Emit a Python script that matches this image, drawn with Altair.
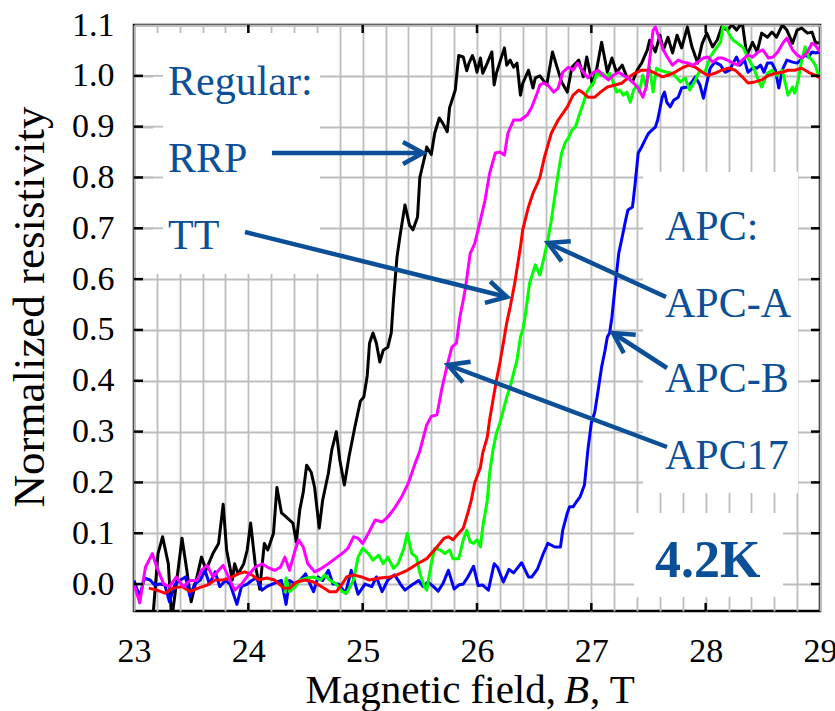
import math
import altair as alt
import pandas as pd

# ---------------- data ----------------
rrp_b = [23.16, 23.21, 23.25, 23.30, 23.33, 23.37, 23.42, 23.46, 23.50, 23.55, 23.59, 23.63, 23.69, 23.74, 23.78,
         23.81, 23.86, 23.88, 23.91, 23.96, 23.99, 24.02, 24.06, 24.10, 24.14, 24.17, 24.22, 24.25, 24.29, 24.34,
         24.39, 24.42, 24.45, 24.48, 24.51, 24.55, 24.58, 24.62, 24.65, 24.70, 24.73, 24.77, 24.80, 24.84, 24.88,
         24.93, 24.98, 25.01, 25.04, 25.06, 25.09, 25.12, 25.15, 25.18, 25.22, 25.25, 25.27, 25.30, 25.33, 25.37,
         25.41, 25.44, 25.48, 25.50, 25.55, 25.56, 25.60, 25.63, 25.67, 25.70, 25.74, 25.76, 25.81, 25.84, 25.88,
         25.91, 25.93, 25.96, 25.98, 26.00, 26.03, 26.05, 26.09, 26.13, 26.15, 26.17, 26.20, 26.24, 26.26, 26.29,
         26.32, 26.35, 26.38, 26.40, 26.45, 26.49, 26.51, 26.55, 26.61, 26.66, 26.70, 26.74, 26.79, 26.83, 26.89,
         26.93, 26.96, 27.01, 27.05, 27.09, 27.14, 27.18, 27.22, 27.27, 27.31, 27.36, 27.40, 27.44, 27.49, 27.51,
         27.56, 27.60, 27.63, 27.67, 27.71, 27.75, 27.79, 27.84, 27.88, 27.93, 27.97, 28.01, 28.06, 28.10, 28.14,
         28.19, 28.23, 28.27, 28.32, 28.36, 28.41, 28.45, 28.49, 28.54, 28.58, 28.62, 28.67, 28.71, 28.76, 28.80,
         28.84, 28.89, 28.93, 28.96, 28.99]
rrp_r = [-0.08, 0.06, 0.093, 0.04, -0.07, 0.0, 0.09, 0.03, -0.035, 0.013, 0.053, 0.028, 0.06, 0.08, 0.157,
         0.067, 0.008, 0.04, 0.02, 0.04, 0.067, 0.12, 0.04, -0.01, 0.08, 0.067, 0.10, 0.19, 0.14, 0.13,
         0.12, 0.083, 0.146, 0.18, 0.234, 0.22, 0.19, 0.11, 0.165, 0.218, 0.264, 0.30, 0.244, 0.195, 0.25,
         0.307, 0.36, 0.368, 0.41, 0.474, 0.494, 0.474, 0.437, 0.46, 0.466, 0.494, 0.56, 0.643, 0.69, 0.746,
         0.706, 0.697, 0.722, 0.80, 0.848, 0.86, 0.845, 0.887, 0.917, 0.907, 0.89, 0.937, 0.972, 1.04, 1.037,
         1.01, 1.025, 1.04, 1.027, 1.007, 1.035, 1.005, 1.025, 1.047, 0.982, 1.005, 1.027, 1.055, 1.021, 1.031,
         1.017, 1.025, 0.962, 0.985, 1.011, 0.976, 0.996, 1.0, 0.982, 1.047, 1.017, 0.988, 0.968, 1.017, 1.031,
         0.998, 1.037, 0.982, 1.017, 1.066, 1.007, 1.035, 1.007, 1.021, 0.998, 0.988, 1.011, 1.025, 1.051, 1.07,
         1.047, 1.08, 1.051, 1.076, 1.045, 1.08, 1.055, 1.096, 1.057, 1.025, 1.064, 1.084, 1.057, 1.07, 1.096,
         1.09, 1.1, 1.09, 1.105, 1.04, 1.066, 1.047, 1.084, 1.076, 1.086, 1.076, 1.1, 1.09, 1.064, 1.09,
         1.094, 1.084, 1.086, 1.066, 1.064]

apc17_b = [23.00, 23.05, 23.10, 23.16, 23.20, 23.26, 23.31, 23.37, 23.43, 23.49, 23.55, 23.59, 23.64, 23.69, 23.74,
           23.78, 23.84, 23.88, 23.94, 24.00, 24.06, 24.12, 24.17, 24.23, 24.28, 24.32, 24.36, 24.41, 24.44, 24.48,
           24.52, 24.58, 24.64, 24.70, 24.76, 24.82, 24.87, 24.92, 24.96, 25.00, 25.05, 25.11, 25.17, 25.22, 25.28,
           25.34, 25.40, 25.46, 25.50, 25.56, 25.60, 25.65, 25.69, 25.74, 25.78, 25.82, 25.85, 25.88, 25.90, 25.94,
           25.98, 26.03, 26.07, 26.11, 26.16, 26.20, 26.24, 26.27, 26.32, 26.38, 26.44, 26.48, 26.52, 26.55, 26.58,
           26.62, 26.67, 26.71, 26.75, 26.80, 26.84, 26.88, 26.93, 26.97, 27.02, 27.06, 27.10, 27.15, 27.19, 27.24,
           27.28, 27.32, 27.36, 27.41, 27.45, 27.48, 27.51, 27.54, 27.56, 27.60, 27.63, 27.67, 27.71, 27.76, 27.80,
           27.85, 27.89, 27.93, 27.98, 28.02, 28.06, 28.11, 28.15, 28.19, 28.24, 28.28, 28.32, 28.37, 28.41, 28.46,
           28.50, 28.55, 28.59, 28.63, 28.68, 28.71, 28.76, 28.80, 28.84, 28.89, 28.93, 28.96, 29.00]
apc17_r = [0.0, -0.037, 0.033, 0.06, 0.033, 0.0, -0.005, 0.014, -0.005, 0.007, 0.007, 0.027, 0.037, 0.014, 0.027,
           0.037, 0.007, -0.012, 0.0, 0.018, 0.033, 0.04, 0.033, 0.027, 0.033, 0.053, 0.027, 0.067, 0.087, 0.073,
           0.04, 0.024, 0.031, 0.04, 0.05, 0.06, 0.07, 0.093, 0.09, 0.08, 0.1, 0.126, 0.122, 0.132, 0.15,
           0.171, 0.199, 0.238, 0.262, 0.313, 0.33, 0.333, 0.382, 0.431, 0.466, 0.474, 0.525, 0.559, 0.584, 0.65,
           0.67, 0.716, 0.755, 0.808, 0.848, 0.85, 0.844, 0.887, 0.913, 0.913, 0.923, 0.939, 0.962, 0.982, 0.986,
           0.982, 0.968, 0.976, 1.007, 1.017, 1.011, 1.025, 1.007, 0.996, 1.007, 1.011, 1.001, 0.992, 1.001, 1.007,
           1.001, 0.996, 0.988, 0.976, 0.958, 0.978, 1.031, 1.09, 1.096, 1.07, 1.051, 1.035, 1.021, 1.031, 1.027,
           1.025, 1.021, 1.027, 1.035, 1.037, 1.027, 1.035, 1.035, 1.031, 1.025, 1.021, 1.031, 1.041, 1.037, 1.047,
           1.051, 1.035, 1.037, 1.047, 1.066, 1.074, 1.051, 1.041, 1.035, 1.047, 1.064, 1.06, 1.047]

tt_b = [23.13, 23.20, 23.27, 23.34, 23.42, 23.49, 23.56, 23.64, 23.71, 23.78, 23.86, 23.91, 23.97, 24.03, 24.09,
        24.16, 24.23, 24.31, 24.36, 24.42, 24.50, 24.57, 24.64, 24.71, 24.77, 24.82, 24.86, 24.92, 24.99, 25.06,
        25.15, 25.24, 25.30, 25.39, 25.48, 25.56, 25.65, 25.71, 25.75, 25.79, 25.84, 25.88, 25.92, 25.95, 25.98,
        26.03, 26.05, 26.09, 26.11, 26.14, 26.17, 26.20, 26.23, 26.26, 26.29, 26.33, 26.38, 26.40, 26.45, 26.49,
        26.53, 26.55, 26.59, 26.65, 26.71, 26.79, 26.84, 26.89, 26.93, 26.97, 27.03, 27.08, 27.14, 27.21, 27.27,
        27.32, 27.38, 27.44, 27.50, 27.56, 27.62, 27.67, 27.73, 27.79, 27.85, 27.91, 27.97, 28.02, 28.08, 28.14,
        28.20, 28.26, 28.32, 28.37, 28.43, 28.49, 28.55, 28.61, 28.67, 28.72, 28.78, 28.84, 28.90, 28.96, 29.00]
tt_r = [-0.008, -0.012, -0.018, -0.008, -0.005, -0.015, -0.008, -0.002, 0.008, 0.008, 0.014, 0.02, 0.024, 0.018, 0.008,
        0.012, 0.008, -0.008, -0.008, 0.004, 0.008, 0.004, -0.005, -0.015, -0.015, 0.0, 0.014, 0.018, 0.014, 0.008,
        0.012, 0.014, 0.018, 0.027, 0.04, 0.05, 0.073, 0.09, 0.093, 0.087, 0.1, 0.11, 0.14, 0.165, 0.199,
        0.23, 0.258, 0.289, 0.323, 0.362, 0.401, 0.435, 0.474, 0.514, 0.545, 0.592, 0.663, 0.697, 0.742, 0.769,
        0.789, 0.80, 0.84, 0.887, 0.913, 0.939, 0.962, 0.972, 0.966, 0.958, 0.958, 0.968, 0.978, 0.982, 0.986,
        0.996, 1.005, 1.011, 1.011, 1.005, 0.998, 1.001, 1.007, 1.015, 1.021, 1.017, 1.007, 1.001, 1.005, 1.011,
        1.015, 1.011, 0.998, 0.986, 0.988, 0.992, 1.001, 1.005, 1.007, 1.011, 1.011, 1.015, 1.007, 1.001, 0.996]

apca_b = [24.32, 24.33, 24.36, 24.41, 24.45, 24.51, 24.57, 24.63, 24.67, 24.71, 24.77, 24.82, 24.86, 24.92, 24.96,
          25.00, 25.05, 25.09, 25.14, 25.18, 25.22, 25.27, 25.31, 25.36, 25.39, 25.43, 25.47, 25.50, 25.54, 25.56,
          25.60, 25.63, 25.68, 25.72, 25.76, 25.79, 25.84, 25.88, 25.91, 25.94, 25.97, 26.00, 26.03, 26.05, 26.09,
          26.11, 26.14, 26.17, 26.20, 26.23, 26.26, 26.29, 26.32, 26.35, 26.38, 26.40, 26.42, 26.46, 26.51, 26.55,
          26.58, 26.62, 26.65, 26.68, 26.71, 26.74, 26.77, 26.80, 26.83, 26.86, 26.88, 26.90, 26.93, 26.96, 26.99,
          27.02, 27.05, 27.08, 27.10, 27.14, 27.16, 27.19, 27.22, 27.25, 27.28, 27.31, 27.34, 27.37, 27.40, 27.42,
          27.45, 27.48, 27.51, 27.54, 27.57, 27.60, 27.66, 27.71, 27.78, 27.82, 27.86, 27.91, 27.95, 27.99, 28.04,
          28.08, 28.13, 28.15, 28.18, 28.21, 28.24, 28.28, 28.33, 28.37, 28.42, 28.46, 28.49, 28.54, 28.58, 28.62,
          28.67, 28.70, 28.72, 28.76, 28.78, 28.81, 28.84, 28.87, 28.90, 28.93, 28.96, 28.99]
apca_r = [-0.018, 0.012, -0.015, -0.005, 0.007, 0.012, 0.014, 0.008, 0.018, 0.008, 0.0, -0.015, -0.018, 0.008, 0.053,
          0.07, 0.06, 0.047, 0.057, 0.04, 0.053, 0.031, 0.04, 0.07, 0.1, 0.06, 0.053, 0.022, -0.005, -0.012,
          0.04, 0.07, 0.067, 0.06, 0.067, 0.05, 0.05, 0.087, 0.106, 0.083, 0.08, 0.087, 0.073, 0.112, 0.165,
          0.218, 0.264, 0.297, 0.317, 0.342, 0.368, 0.388, 0.415, 0.441, 0.486, 0.5, 0.525, 0.592, 0.628, 0.608,
          0.637, 0.677, 0.716, 0.762, 0.808, 0.848, 0.868, 0.878, 0.893, 0.899, 0.913, 0.927, 0.946, 0.968, 0.978,
          0.986, 1.007, 1.001, 1.005, 0.996, 1.005, 0.988, 0.968, 0.972, 0.962, 0.968, 0.948, 0.972, 0.982, 0.968,
          1.001, 0.978, 1.017, 0.968, 1.015, 1.011, 1.007, 1.005, 0.988, 0.996, 0.972, 0.992, 1.011, 1.005, 1.037,
          1.051, 1.066, 1.096, 1.094, 1.08, 1.07, 1.064, 1.055, 1.035, 1.015, 0.992, 0.978, 1.005, 1.011, 1.001,
          1.011, 0.982, 0.962, 0.978, 0.966, 0.992, 1.031, 1.057, 1.037, 1.031, 1.021, 0.998]

apcb_b = [23.00, 23.05, 23.09, 23.14, 23.18, 23.23, 23.27, 23.31, 23.36, 23.40, 23.45, 23.49, 23.53, 23.58, 23.62,
          23.66, 23.71, 23.75, 23.80, 23.84, 23.90, 23.94, 23.99, 24.03, 24.07, 24.12, 24.16, 24.21, 24.25, 24.29,
          24.33, 24.36, 24.41, 24.45, 24.50, 24.54, 24.57, 24.61, 24.65, 24.70, 24.74, 24.79, 24.85, 24.90, 24.96,
          25.02, 25.08, 25.12, 25.17, 25.22, 25.28, 25.33, 25.37, 25.43, 25.49, 25.53, 25.57, 25.62, 25.66, 25.70,
          25.75, 25.80, 25.84, 25.88, 25.92, 25.97, 26.01, 26.05, 26.10, 26.15, 26.18, 26.23, 26.28, 26.32, 26.39,
          26.45, 26.48, 26.53, 26.58, 26.62, 26.68, 26.73, 26.75, 26.79, 26.81, 26.84, 26.87, 26.90, 26.93, 26.94,
          26.97, 27.00, 27.03, 27.06, 27.09, 27.12, 27.14, 27.16, 27.18, 27.21, 27.24, 27.27, 27.30, 27.32, 27.36,
          27.38, 27.41, 27.44, 27.47, 27.50, 27.53, 27.56, 27.58, 27.62, 27.64, 27.66, 27.69, 27.72, 27.76, 27.79,
          27.84, 27.88, 27.91, 27.95, 27.98, 28.01, 28.04, 28.08, 28.13, 28.17, 28.21, 28.24, 28.27, 28.30, 28.34,
          28.37, 28.42, 28.45, 28.48, 28.51, 28.54, 28.58, 28.61, 28.64, 28.67, 28.71, 28.76, 28.80, 28.83, 28.87,
          28.90, 28.93, 28.96, 29.00]
apcb_r = [0.007, -0.025, 0.012, 0.008, -0.002, 0.0, -0.002, -0.035, 0.0, 0.007, 0.014, -0.025, 0.0, 0.008, 0.027,
          0.0, 0.024, -0.005, 0.007, 0.0, -0.04, -0.005, 0.0, 0.007, 0.012, -0.012, -0.005, 0.0, 0.004, 0.007,
          -0.04, 0.007, 0.0, 0.007, 0.02, 0.0, -0.015, 0.014, 0.007, 0.027, 0.0, 0.0, -0.018, 0.027, -0.02,
          0.0, -0.005, 0.014, -0.015, 0.008, 0.018, 0.0, -0.012, -0.002, 0.007, -0.005, 0.004, -0.005, -0.014, 0.0,
          0.027, -0.01, -0.002, 0.0, 0.014, 0.035, -0.003, -0.002, -0.012, 0.04, 0.033, 0.004, 0.029, 0.022, 0.042,
          0.014, 0.014, 0.03, 0.06, 0.08, 0.073, 0.073, 0.106, 0.14, 0.152, 0.152, 0.162, 0.171, 0.189, 0.195,
          0.264, 0.317, 0.338, 0.382, 0.427, 0.46, 0.486, 0.494, 0.525, 0.59, 0.651, 0.683, 0.716, 0.736, 0.742,
          0.781, 0.848, 0.86, 0.874, 0.887, 0.893, 0.899, 0.913, 0.958, 0.968, 0.948, 0.939, 0.952, 0.958, 0.976,
          0.978, 0.988, 0.998, 0.982, 0.956, 0.986, 1.015, 1.027, 1.021, 1.007, 1.011, 1.025, 1.037, 1.021, 1.031,
          1.007, 1.017, 1.015, 1.021, 1.007, 1.025, 1.025, 1.011, 0.976, 1.011, 1.031, 1.027, 1.025, 1.031, 1.041,
          1.037, 1.047, 1.045, 1.047]

# annotation texts
regular_labels = ["Regular:", "RRP", "TT"]
apc_labels = ["APC:", "APC-A", "APC-B", "APC17"]
temp_label = "4.2K"

# ---------------- layout / style ----------------
W, H = 686, 586
XMIN, XMAX = 23.0, 29.0
YMIN, YMAX = -0.053, 1.1
FONT = "Liberation Serif"
BLUE = "#0a4f97"
GRID = "#bdbdbd"
SX = W / (XMAX - XMIN)
SY = H / (YMAX - YMIN)


def px2b(px):
    return XMIN + (px - 134) / SX


def py2r(py):
    return YMAX - (py - 25) / SY


xs = alt.Scale(domain=[XMIN, XMAX], nice=False, zero=False)
ys = alt.Scale(domain=[YMIN, YMAX], nice=False, zero=False)
x_vals = [round(23 + 0.2 * i, 1) for i in range(31)]
y_vals = [round(0.1 * i, 1) for i in range(12)]

x_axis = alt.Axis(values=x_vals, grid=True, gridColor=GRID, gridWidth=1.8, ticks=False, tickSize=0,
                  domain=False,
                  labelExpr="abs(datum.value - round(datum.value)) < 0.001 ? format(datum.value, 'd') : ''",
                  labelFont=FONT, labelFontSize=34, labelColor="black", labelPadding=23,
                  labelFlush=False, labelOverlap=False, title=None)
y_axis = alt.Axis(values=y_vals, grid=True, gridColor=GRID, gridWidth=1.8, ticks=False, tickSize=0,
                  domain=False, format=".1f",
                  labelFont=FONT, labelFontSize=34, labelColor="black", labelPadding=20,
                  labelFlush=False, labelOverlap=False, title=None)


def X(f="B"):
    return alt.X(f, type="quantitative", scale=xs, axis=x_axis)


def Y(f="R"):
    return alt.Y(f, type="quantitative", scale=ys, axis=y_axis)


layers = []

# white label boxes that hide the grid
boxes = pd.DataFrame({
    "B": [px2b(153), px2b(643), px2b(634)],
    "B2": [px2b(320), px2b(798), px2b(783)],
    "R": [py2r(33), py2r(172), py2r(513)],
    "R2": [py2r(274), py2r(493), py2r(597)],
})
layers.append(alt.Chart(boxes).mark_rect(fill="white").encode(
    x=X("B"), x2="B2", y=Y("R"), y2="R2"))

# grid stubs left of the "Regular" box
stubs = pd.DataFrame({"R": [0.7, 0.8, 0.9, 1.0]})
layers.append(alt.Chart(stubs).mark_rule(color=GRID, strokeWidth=1.8).encode(
    y=Y("R"), x=alt.value(0), x2=alt.value(29)))

# curves
for b, r, col in [(rrp_b, rrp_r, "#000000"), (apcb_b, apcb_r, "#0000ff"), (apca_b, apca_r, "#00ff00"),
                  (tt_b, tt_r, "#ff0000"), (apc17_b, apc17_r, "#ff00ff")]:
    df = pd.DataFrame({"B": b, "R": r})
    layers.append(alt.Chart(df).mark_line(color=col, strokeWidth=3, clip=True, strokeJoin="round").encode(
        x=X("B"), y=Y("R")))

# inward ticks
xt = pd.DataFrame({"B": [24, 25, 26, 27, 28]})
yt = pd.DataFrame({"R": [round(0.1 * i, 1) for i in range(11)]})
layers.append(alt.Chart(xt).mark_rule(color="black", strokeWidth=2.5).encode(
    x=X("B"), y=alt.value(H), y2=alt.value(H - 8)))
layers.append(alt.Chart(xt).mark_rule(color="black", strokeWidth=2.5).encode(
    x=X("B"), y=alt.value(0), y2=alt.value(8)))
layers.append(alt.Chart(yt).mark_rule(color="black", strokeWidth=2.5).encode(
    y=Y("R"), x=alt.value(0), x2=alt.value(9)))
layers.append(alt.Chart(yt).mark_rule(color="black", strokeWidth=2.5).encode(
    y=Y("R"), x=alt.value(W), x2=alt.value(W - 9)))

# arrows (start -> tip), pixel measurements converted to data units
arrow_px = [(272, 153, 423, 153), (245, 232, 507, 297), (666, 297, 548, 243),
            (667, 368, 613, 333), (667, 447, 448, 365)]
arr = pd.DataFrame({
    "B": [px2b(a[0]) for a in arrow_px],
    "R": [py2r(a[1]) for a in arrow_px],
    "B2": [px2b(a[2]) for a in arrow_px],
    "R2": [py2r(a[3]) for a in arrow_px],
    "ang": [math.degrees(math.atan2(a[3] - a[1], a[2] - a[0])) % 360 for a in arrow_px],
})
layers.append(alt.Chart(arr).mark_rule(color=BLUE, strokeWidth=4.5).encode(
    x=X("B"), x2="B2", y=Y("R"), y2="R2"))
heads = pd.DataFrame({"B": arr["B2"], "R": arr["R2"], "ang": arr["ang"]})
layers.append(alt.Chart(heads).mark_point(shape="M-1,-0.55L0,0L-1,0.55", filled=False, size=1600,
                                          strokeWidth=4.5, color=BLUE, opacity=1, strokeJoin="miter").encode(
    x=X("B"), y=Y("R"), angle=alt.Angle("ang:Q", scale=None)))

# annotation labels
lab = pd.DataFrame({
    "label": regular_labels + apc_labels,
    "B": [px2b(168)] * 3 + [px2b(665)] * 4,
    "R": [py2r(95), py2r(172), py2r(249), py2r(240), py2r(316.7), py2r(392), py2r(469)],
})
layers.append(alt.Chart(lab).mark_text(align="left", baseline="alphabetic", font=FONT, fontSize=42,
                                       color=BLUE).encode(x=X("B"), y=Y("R"), text="label:N"))
tl = pd.DataFrame({"label": [temp_label], "B": [px2b(655)], "R": [py2r(577)]})
layers.append(alt.Chart(tl).mark_text(align="left", baseline="alphabetic", font=FONT, fontSize=52,
                                      fontWeight="bold", color=BLUE).encode(x=X("B"), y=Y("R"), text="label:N"))

# axis titles
one = pd.DataFrame({"t": [""]})
layers.append(alt.Chart(one).mark_text(align="right", baseline="alphabetic", font=FONT, fontSize=41,
                                       color="black", text="Magnetic field,").encode(
    x=alt.value(556 - 134), y=alt.value(703 - 25)))
layers.append(alt.Chart(one).mark_text(align="left", baseline="alphabetic", font=FONT, fontSize=41,
                                       fontStyle="italic", color="black", text="B").encode(
    x=alt.value(564 - 134), y=alt.value(703 - 25)))
layers.append(alt.Chart(one).mark_text(align="left", baseline="alphabetic", font=FONT, fontSize=41,
                                       color="black", text=", T").encode(
    x=alt.value(590 - 134), y=alt.value(703 - 25)))
layers.append(alt.Chart(one).mark_text(align="center", baseline="alphabetic", font=FONT, fontSize=45,
                                       angle=270, color="black", text="Normalized resistivity").encode(
    x=alt.value(44 - 134), y=alt.value(307 - 25)))

chart = alt.layer(*layers).properties(
    width=W, height=H,
    padding={"left": 134, "top": 25, "right": 15, "bottom": 100},
    autosize=alt.AutoSizeParams(type="none"),
    background="white",
).configure_view(stroke="black", strokeWidth=2.5)

chart.save("out.html", embed_options={"renderer": "svg", "actions": False})
